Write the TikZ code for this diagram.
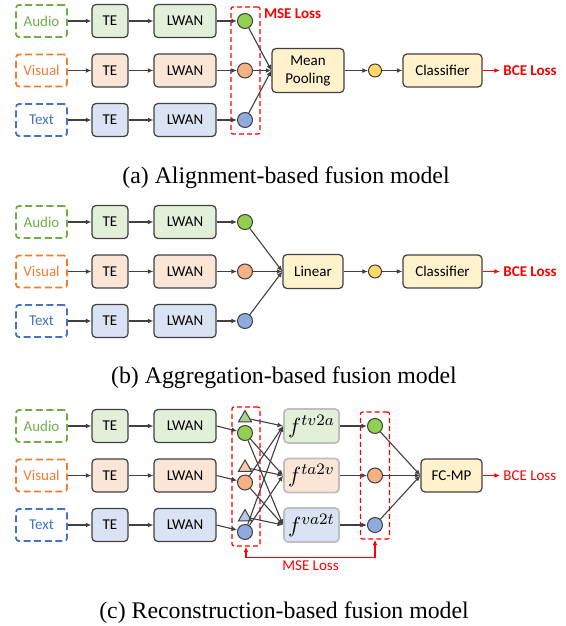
\documentclass[tikz,border=0pt]{standalone}
\usepackage{fontspec}
\setmainfont{Liberation Serif}
\setsansfont{Carlito}
\usetikzlibrary{calc, shapes.geometric, arrows.meta}

\definecolor{edge}{HTML}{404040}
\definecolor{fedge}{HTML}{BFBFBF}
\definecolor{audioc}{HTML}{70AD47}
\definecolor{visualc}{HTML}{ED7D31}
\definecolor{textc}{HTML}{4472C4}
\definecolor{audiofill}{HTML}{E2F0D9}
\definecolor{visualfill}{HTML}{FBE5D6}
\definecolor{textfill}{HTML}{DAE3F3}
\definecolor{yellowfill}{HTML}{FFF2CC}
\definecolor{audiodot}{HTML}{92D050}
\definecolor{visualdot}{HTML}{F4B183}
\definecolor{textdot}{HTML}{8FAADC}
\definecolor{yellowdot}{HTML}{FFD966}
\definecolor{audiotri}{HTML}{A9D18E}
\definecolor{visualtri}{HTML}{F8CBAD}
\definecolor{texttri}{HTML}{B4C7E7}

\begin{document}
\begin{tikzpicture}[x=.5pt, y=-.5pt]
    \tikzstyle{inbox} = [rectangle, rounded corners=1.5pt, dash pattern=on 3.5pt off 1.8pt,
        line width=.9pt, minimum width=25.5pt, minimum height=16pt,
        font=\sffamily\fontsize{7.5}{9}\selectfont]
    \tikzstyle{block} = [rectangle, rounded corners=2pt, draw=edge, line width=.6pt,
        minimum height=16.5pt, inner sep=1pt, font=\sffamily\fontsize{7.5}{9}\selectfont]
    \tikzstyle{fblock} = [rectangle, rounded corners=2pt, draw=fedge, line width=.9pt,
        minimum width=27.5pt, minimum height=17pt, inner sep=0pt, font=\fontsize{11}{12}\selectfont]
    \tikzstyle{dot} = [circle, draw=edge, line width=.5pt, minimum size=7.5pt, inner sep=0pt]
    \tikzstyle{tri} = [regular polygon, regular polygon sides=3, draw=edge, line width=.5pt,
        minimum size=7.5pt, inner sep=0pt]
    \tikzstyle{lossgroup} = [rectangle, draw=red, dash pattern=on 2.5pt off 1.5pt, line width=.6pt,
        rounded corners=1pt, minimum width=14.5pt, minimum height=63.5pt]
    \tikzstyle{flow} = [draw=edge, line width=.55pt, -{Latex[length=2.8pt, width=2.4pt]}]
    \tikzstyle{lossflow} = [draw=red, line width=.6pt, -{Latex[length=2.8pt, width=2.4pt]}]
    \tikzstyle{loss} = [text=red, anchor=west, inner sep=1.5pt, font=\sffamily\fontsize{7.5}{9}\selectfont]
    \tikzstyle{caption} = [anchor=base, inner sep=0pt, font=\rmfamily\fontsize{11.9}{14}\selectfont]

    \useasboundingbox (0, 0) rectangle (566, 626);

    % (a) Alignment ---------------------------------------
    \node (audio_a) at (41.5, 21) [inbox, draw=audioc, text=audioc] {Audio};
    \node (visual_a) at ($(audio_a) + (0, 49.5)$) [inbox, draw=visualc, text=visualc] {Visual};
    \node (text_a) at ($(visual_a) + (0, 49.5)$) [inbox, draw=textc, text=textc] {Text};

    \node (te_a1) at ($(audio_a) + (68.5, 0)$) [block, fill=audiofill, minimum width=18pt] {TE};
    \node (te_a2) at ($(visual_a) + (68.5, 0)$) [block, fill=visualfill, minimum width=18pt] {TE};
    \node (te_a3) at ($(text_a) + (68.5, 0)$) [block, fill=textfill, minimum width=18pt] {TE};

    \node (lwan_a1) at ($(te_a1) + (75, 0)$) [block, fill=audiofill, minimum width=31pt] {LWAN};
    \node (lwan_a2) at ($(te_a2) + (75, 0)$) [block, fill=visualfill, minimum width=31pt] {LWAN};
    \node (lwan_a3) at ($(te_a3) + (75, 0)$) [block, fill=textfill, minimum width=31pt] {LWAN};

    \node (h_a1) at ($(lwan_a1) + (60, 0)$) [dot, fill=audiodot] {};
    \node (h_a2) at ($(lwan_a2) + (60, 0)$) [dot, fill=visualdot] {};
    \node (h_a3) at ($(lwan_a3) + (60, 0)$) [dot, fill=textdot] {};

    \node (grp_a) at ($(h_a2) + (.5, 0)$) [lossgroup] {};
    \node (mse_a) at ($(grp_a.north east) + (0, 7)$) [loss, font=\sffamily\bfseries\fontsize{7.5}{9}\selectfont] {MSE Loss};

    \node (pool_a) at ($(h_a2) + (63, 0)$) [block, fill=yellowfill, minimum width=36pt,
        minimum height=22pt, align=center] {Mean\\Pooling};
    \node (z_a) at ($(pool_a) + (67, 0)$) [dot, fill=yellowdot, minimum size=6.5pt] {};
    \node (clf_a) at ($(z_a) + (67.5, 0)$) [block, fill=yellowfill, minimum width=39.5pt] {Classifier};
    \node (bce_a) at ($(clf_a) + (57.5, 0)$) [loss, font=\sffamily\bfseries\fontsize{7.5}{9}\selectfont] {BCE Loss};

    \draw [flow] (audio_a) -- (te_a1);
    \draw [flow] (visual_a) -- (te_a2);
    \draw [flow] (text_a) -- (te_a3);
    \draw [flow] (te_a1) -- (lwan_a1);
    \draw [flow] (te_a2) -- (lwan_a2);
    \draw [flow] (te_a3) -- (lwan_a3);
    \draw [flow] (lwan_a1) -- (h_a1);
    \draw [flow] (lwan_a2) -- (h_a2);
    \draw [flow] (lwan_a3) -- (h_a3);
    \draw [flow] (h_a1) -- (pool_a.west);
    \draw [flow] (h_a2) -- (pool_a.west);
    \draw [flow] (h_a3) -- (pool_a.west);
    \draw [flow] (pool_a) -- (z_a);
    \draw [flow] (z_a) -- (clf_a);
    \draw [lossflow] (clf_a) -- (bce_a);

    \node (cap_a) at (286, 183) [caption] {(a) Alignment-based fusion model};

    % (b) Aggregation ---------------------------------------
    \node (audio_b) at (41.5, 222) [inbox, draw=audioc, text=audioc] {Audio};
    \node (visual_b) at ($(audio_b) + (0, 49.5)$) [inbox, draw=visualc, text=visualc] {Visual};
    \node (text_b) at ($(visual_b) + (0, 49.5)$) [inbox, draw=textc, text=textc] {Text};

    \node (te_b1) at ($(audio_b) + (68.5, 0)$) [block, fill=audiofill, minimum width=18pt] {TE};
    \node (te_b2) at ($(visual_b) + (68.5, 0)$) [block, fill=visualfill, minimum width=18pt] {TE};
    \node (te_b3) at ($(text_b) + (68.5, 0)$) [block, fill=textfill, minimum width=18pt] {TE};

    \node (lwan_b1) at ($(te_b1) + (75, 0)$) [block, fill=audiofill, minimum width=31pt] {LWAN};
    \node (lwan_b2) at ($(te_b2) + (75, 0)$) [block, fill=visualfill, minimum width=31pt] {LWAN};
    \node (lwan_b3) at ($(te_b3) + (75, 0)$) [block, fill=textfill, minimum width=31pt] {LWAN};

    \node (h_b1) at ($(lwan_b1) + (60, 0)$) [dot, fill=audiodot] {};
    \node (h_b2) at ($(lwan_b2) + (60, 0)$) [dot, fill=visualdot] {};
    \node (h_b3) at ($(lwan_b3) + (60, 0)$) [dot, fill=textdot] {};

    \node (linear_b) at ($(h_b2) + (68, 0)$) [block, fill=yellowfill, minimum width=30pt, minimum height=17pt] {Linear};
    \node (z_b) at ($(linear_b) + (62, 0)$) [dot, fill=yellowdot, minimum size=6.5pt] {};
    \node (clf_b) at ($(z_b) + (67.5, 0)$) [block, fill=yellowfill, minimum width=39.5pt] {Classifier};
    \node (bce_b) at ($(clf_b) + (57.5, 0)$) [loss, font=\sffamily\bfseries\fontsize{7.5}{9}\selectfont] {BCE Loss};

    \draw [flow] (audio_b) -- (te_b1);
    \draw [flow] (visual_b) -- (te_b2);
    \draw [flow] (text_b) -- (te_b3);
    \draw [flow] (te_b1) -- (lwan_b1);
    \draw [flow] (te_b2) -- (lwan_b2);
    \draw [flow] (te_b3) -- (lwan_b3);
    \draw [flow] (lwan_b1) -- (h_b1);
    \draw [flow] (lwan_b2) -- (h_b2);
    \draw [flow] (lwan_b3) -- (h_b3);
    \draw [flow] (h_b1) -- (linear_b.west);
    \draw [flow] (h_b2) -- (linear_b.west);
    \draw [flow] (h_b3) -- (linear_b.west);
    \draw [flow] (linear_b) -- (z_b);
    \draw [flow] (z_b) -- (clf_b);
    \draw [lossflow] (clf_b) -- (bce_b);

    \node (cap_b) at (284, 383) [caption] {(b) Aggregation-based fusion model};

    % (c) Reconstruction ---------------------------------------
    \node (audio_c) at (41.5, 426) [inbox, draw=audioc, text=audioc] {Audio};
    \node (visual_c) at ($(audio_c) + (0, 49.5)$) [inbox, draw=visualc, text=visualc] {Visual};
    \node (text_c) at ($(visual_c) + (0, 49.5)$) [inbox, draw=textc, text=textc] {Text};

    \node (te_c1) at ($(audio_c) + (68.5, 0)$) [block, fill=audiofill, minimum width=18pt] {TE};
    \node (te_c2) at ($(visual_c) + (68.5, 0)$) [block, fill=visualfill, minimum width=18pt] {TE};
    \node (te_c3) at ($(text_c) + (68.5, 0)$) [block, fill=textfill, minimum width=18pt] {TE};

    \node (lwan_c1) at ($(te_c1) + (75, 0)$) [block, fill=audiofill, minimum width=31pt] {LWAN};
    \node (lwan_c2) at ($(te_c2) + (75, 0)$) [block, fill=visualfill, minimum width=31pt] {LWAN};
    \node (lwan_c3) at ($(te_c3) + (75, 0)$) [block, fill=textfill, minimum width=31pt] {LWAN};

    \node (h_c1) at ($(lwan_c1) + (60, 7)$) [dot, fill=audiodot] {};
    \node (h_c2) at ($(lwan_c2) + (60, 7)$) [dot, fill=visualdot] {};
    \node (h_c3) at ($(lwan_c3) + (60, 7)$) [dot, fill=textdot] {};
    \node (t_c1) at ($(h_c1) + (0, -15)$) [tri, fill=audiotri] {};
    \node (t_c2) at ($(h_c2) + (0, -15)$) [tri, fill=visualtri] {};
    \node (t_c3) at ($(h_c3) + (0, -15)$) [tri, fill=texttri] {};

    \node (grp_c1) at ($(h_c2) + (1, -6)$) [lossgroup, minimum width=14pt, minimum height=69.5pt] {};

    \node (f_c1) at ($(lwan_c1) + (126.5, 0)$) [fblock, fill=audiofill] {$f^{tv2a}$};
    \node (f_c2) at ($(lwan_c2) + (126.5, 0)$) [fblock, fill=visualfill] {$f^{ta2v}$};
    \node (f_c3) at ($(lwan_c3) + (126.5, 0)$) [fblock, fill=textfill] {$f^{va2t}$};

    \node (r_c1) at ($(f_c1) + (63.5, 0)$) [dot, fill=audiodot] {};
    \node (r_c2) at ($(f_c2) + (63.5, 0)$) [dot, fill=visualdot] {};
    \node (r_c3) at ($(f_c3) + (63.5, 0)$) [dot, fill=textdot] {};

    \node (grp_c2) at ($(r_c2) + (0, 0)$) [lossgroup] {};

    \node (fcmp_c) at ($(r_c2) + (76.5, 0)$) [block, fill=yellowfill, minimum width=30.5pt] {FC-MP};
    \node (bce_c) at ($(fcmp_c) + (48.5, 0)$) [loss] {BCE Loss};

    \draw [flow] (audio_c) -- (te_c1);
    \draw [flow] (visual_c) -- (te_c2);
    \draw [flow] (text_c) -- (te_c3);
    \draw [flow] (te_c1) -- (lwan_c1);
    \draw [flow] (te_c2) -- (lwan_c2);
    \draw [flow] (te_c3) -- (lwan_c3);
    \draw [flow] (lwan_c1.east) -- (h_c1);
    \draw [flow] (lwan_c2.east) -- (h_c2);
    \draw [flow] (lwan_c3.east) -- (h_c3);

    % cross inputs of the reconstructors
    \draw [flow] (t_c1) -- (f_c1.west);
    \draw [flow] (h_c2) -- (f_c1.west);
    \draw [flow] (h_c3) -- (f_c1.west);
    \draw [flow] (t_c2) -- (f_c2.west);
    \draw [flow] (h_c1) -- (f_c2.west);
    \draw [flow] (h_c3) -- (f_c2.west);
    \draw [flow] (t_c3) -- (f_c3.west);
    \draw [flow] (h_c1) -- (f_c3.west);
    \draw [flow] (h_c2) -- (f_c3.west);

    \draw [flow] (f_c1) -- (r_c1);
    \draw [flow] (f_c2) -- (r_c2);
    \draw [flow] (f_c3) -- (r_c3);
    \draw [flow] (r_c1) -- (fcmp_c.west);
    \draw [flow] (r_c2) -- (fcmp_c.west);
    \draw [flow] (r_c3) -- (fcmp_c.west);
    \draw [lossflow] (fcmp_c) -- (bce_c);

    % MSE between the two groups
    \coordinate (mse_l) at ($(grp_c1.south) + (0, 11)$);
    \coordinate (mse_r) at (grp_c2.south |- mse_l);
    \draw [lossflow, {Latex[length=2.8pt, width=2.4pt]}-{Latex[length=2.8pt, width=2.4pt]}]
        (grp_c1.south) -- (mse_l) -- (mse_r) -- (grp_c2.south);
    \node (mse_c) at ($(mse_l)!.5!(mse_r) + (0, 8)$) [loss, anchor=center] {MSE Loss};

    \node (cap_c) at (284, 618) [caption] {(c) Reconstruction-based fusion model};
\end{tikzpicture}
\end{document}
